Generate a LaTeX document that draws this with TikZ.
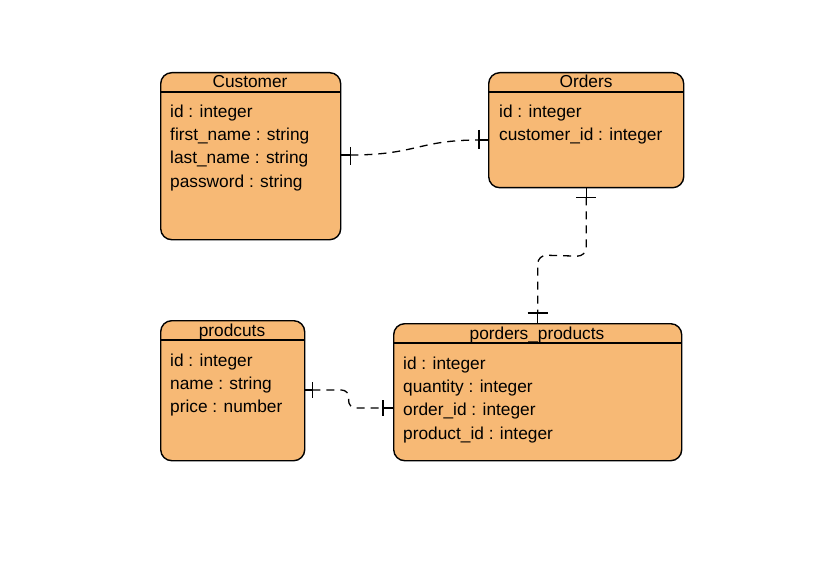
\documentclass[tikz,border=0pt]{standalone}
\usepackage{fontspec}
\setmainfont{Liberation Sans}
\usetikzlibrary{calc}
\definecolor{boxfill}{HTML}{F7B975}
\begin{document}
\begin{tikzpicture}[x=1pt,y=-1pt,
  entity/.style={draw=black,line width=1.4pt,fill=boxfill,rounded corners=11pt,anchor=north west,inner sep=0pt},
  hdr/.style={font=\fontsize{17.3}{20}\selectfont,anchor=base,inner sep=0pt},
  fld/.style={font=\fontsize{17.3}{20}\selectfont,anchor=base west,inner sep=0pt},
  rel/.style={line width=1.3pt,dash pattern=on 8pt off 6pt},
  tick/.style={line width=1.3pt}]
\useasboundingbox (0,0) rectangle (819,572);
% boxes
\node[entity,minimum width=180pt,minimum height=167pt] (cust) at (160,72) {};
\node[entity,minimum width=195pt,minimum height=115pt] (ord) at (488,72) {};
\node[entity,minimum width=144pt,minimum height=140pt] (prod) at (160,320) {};
\node[entity,minimum width=288pt,minimum height=137pt] (op) at (393,323) {};
% header separators
\draw[line width=1.2pt] ($(cust.north west)+(0,20)$) -- ($(cust.north east)+(0,20)$);
\draw[line width=1.2pt] ($(ord.north west)+(0,20)$) -- ($(ord.north east)+(0,20)$);
\draw[line width=1.2pt] ($(prod.north west)+(0,20)$) -- ($(prod.north east)+(0,20)$);
\draw[line width=1.2pt] ($(op.north west)+(0,20)$) -- ($(op.north east)+(0,20)$);
% headers
\node[hdr] (custh) at (250,88) {Customer};
\node[hdr] (ordh) at (586,88) {Orders};
\node[hdr] (prodh) at (232,336) {prodcuts};
\node[hdr] (oph) at (537,339) {porders\_products};
% fields
\node[fld] (c1) at (170,118) {id : integer};
\node[fld] (c2) at (170,141) {first\_name : string};
\node[fld] (c3) at (170,164) {last\_name : string};
\node[fld] (c4) at (170,188) {password : string};
\node[fld] (o1) at (499,118) {id : integer};
\node[fld] (o2) at (499,141) {customer\_id : integer};
\node[fld] (p1) at (170,366) {id : integer};
\node[fld] (p2) at (170,389) {name : string};
\node[fld] (p3) at (170,412) {price : number};
\node[fld] (q1) at (403,369) {id : integer};
\node[fld] (q2) at (403,392) {quantity : integer};
\node[fld] (q3) at (403,415) {order\_id : integer};
\node[fld] (q4) at (403,439) {product\_id : integer};
% connector anchors
\coordinate (a1) at (cust.east |- 0,155);
\coordinate (a2) at (ord.west |- 0,140);
\coordinate (b1) at (ord.south);
\coordinate (b2) at (op.north |- 0,323);
\coordinate (d1) at (prod.east |- 0,390);
\coordinate (d2) at (op.west |- 0,408);
% Customer - Orders
\draw[tick] (a1) -- ++(9,0);
\draw[tick] ($(a1)+(9,-8)$) -- ++(0,18);
\draw[rel] ($(a1)+(9,0)$) .. controls ($(a1)+(75,0)$) and ($(a2)+(-70,0)$) .. ($(a2)+(-9,0)$);
\draw[tick] ($(a2)+(-9,-10)$) -- ++(0,19);
\draw[tick] ($(a2)+(-9,0)$) -- (a2);
% Orders - porders_products
\draw[tick] (b1) -- ++(0,13);
\draw[tick] ($(b1)+(-10,9)$) -- ++(20,0);
\draw[rel,rounded corners=9pt] ($(b1)+(0,9)$) -- ($(b1)+(0,68)$) -- ($(b2)+(0,-68)$) -- ($(b2)+(0,-10)$);
\draw[tick] ($(b2)+(-10,-10)$) -- ++(20,0);
\draw[tick] ($(b2)+(0,-10)$) -- (b2);
% prodcuts - porders_products
\draw[tick] (d1) -- ++(7,0);
\draw[tick] ($(d1)+(7,-8)$) -- ++(0,16);
\draw[rel,rounded corners=8pt] ($(d1)+(7,0)$) -- ($(d1)+(44,0)$) -- ($(d2)+(-45,0)$) -- ($(d2)+(-10,0)$);
\draw[tick] ($(d2)+(-10,-8)$) -- ++(0,16);
\draw[tick] ($(d2)+(-10,0)$) -- (d2);
\end{tikzpicture}
\end{document}
